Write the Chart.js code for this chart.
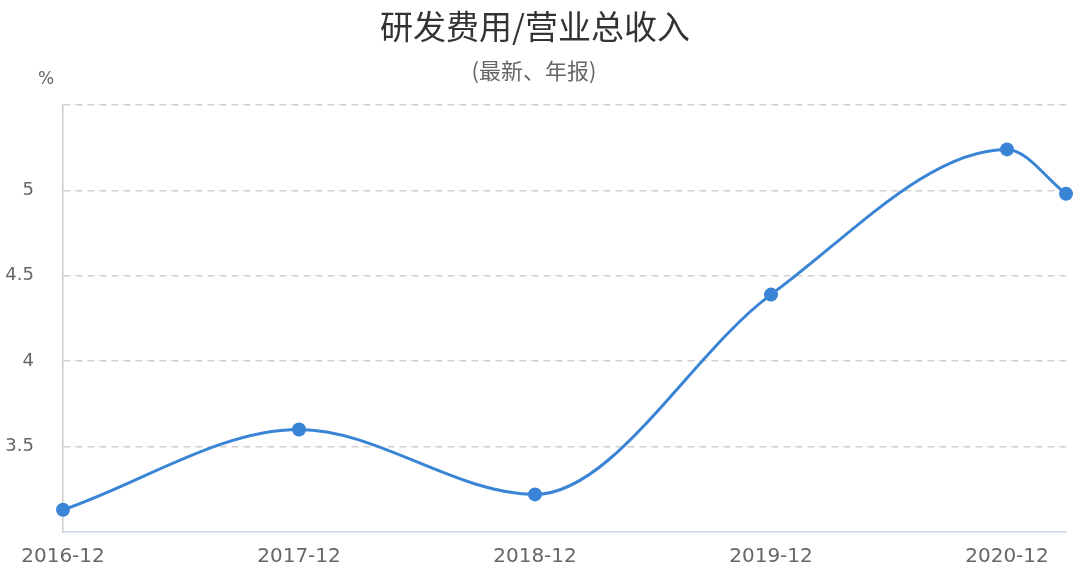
<!DOCTYPE html>
<html>
<head>
<meta charset="utf-8">
<script src="https://cdn.jsdelivr.net/npm/chart.js@4/dist/chart.umd.min.js"></script>
<style>
html,body{margin:0;padding:0;background:#fff;}
#wrap{width:1080px;height:584px;position:relative;}
</style>
</head>
<body>
<div id="wrap"><canvas id="c" width="1080" height="584"></canvas></div>
<script>
// Data (x in months since 2016-12)
const monthsFromStart = [0, 12, 24, 36, 48, 51];
const values = [3.13, 3.60, 3.22, 4.39, 5.24, 4.98];
const tickMonths = [0, 12, 24, 36, 48];
const tickLabels = ['2016-12', '2017-12', '2018-12', '2019-12', '2020-12'];
const yTicks = [3, 3.5, 4, 4.5, 5, 5.5];
const yLabels = ['', '3.5', '4', '4.5', '5', ''];
const titleText = '研发费用/营业总收入';
const subtitleText = '(最新、年报)';
const unitText = '%';

const FONT = '"DejaVu Sans", "Noto Sans CJK SC", sans-serif';
const CJK = '"Noto Sans CJK SC", sans-serif';

const textPlugin = {
  id: 'texts',
  afterDraw(chart) {
    const ctx = chart.ctx;
    ctx.save();
    ctx.textAlign = 'center';
    ctx.textBaseline = 'middle';
    ctx.fillStyle = '#333';
    ctx.font = '33px ' + CJK;
    ctx.fillText(titleText, 535, 26);
    ctx.fillStyle = '#666';
    ctx.font = '22px ' + CJK;
    ctx.fillText(subtitleText, 534, 71);
    ctx.font = '17px ' + FONT;
    ctx.fillText(unitText, 46, 80);
    ctx.restore();
  }
};

const pts = monthsFromStart.map((m, i) => ({x: m, y: values[i]}));

new Chart(document.getElementById('c'), {
  type: 'line',
  data: {
    datasets: [{
      data: pts,
      borderColor: '#3a84d6',
      backgroundColor: '#3a84d6',
      borderWidth: 3,
      pointRadius: 7,
      pointHoverRadius: 7,
      pointBackgroundColor: '#3a84d6',
      pointBorderWidth: 0,
      cubicInterpolationMode: 'monotone',
      fill: false,
      clip: false
    }]
  },
  options: {
    responsive: false,
    animation: false,
    events: [],
    layout: {padding: {left: 0, right: 14, top: 105, bottom: 0}},
    plugins: {legend: {display: false}, tooltip: {enabled: false}, title: {display: false}},
    scales: {
      x: {
        type: 'linear',
        min: 0,
        max: 51,
        afterBuildTicks(scale) { scale.ticks = tickMonths.map(v => ({value: v})); },
        afterFit(scale) { scale.height = 52; },
        ticks: {
          autoSkip: false,
          maxRotation: 0,
          padding: 13,
          color: '#666',
          font: {family: FONT, size: 20},
          callback(v) { const i = tickMonths.indexOf(v); return i >= 0 ? tickLabels[i] : ''; }
        },
        grid: {display: false, drawTicks: false},
        border: {display: true, color: '#ccd6eb', width: 1.5}
      },
      y: {
        min: 3,
        max: 5.5,
        afterBuildTicks(scale) { scale.ticks = yTicks.map(v => ({value: v})); },
        afterFit(scale) { scale.width = 63; },
        ticks: {
          padding: 29,
          color: '#666',
          font: {family: FONT, size: 18},
          callback(v) { const i = yTicks.indexOf(v); return i >= 0 ? yLabels[i] : ''; }
        },
        grid: {
          drawTicks: false,
          color: (c) => c.tick && c.tick.value === 3 ? 'rgba(0,0,0,0)' : '#d0d0d0',
          lineWidth: 1.5
        },
        border: {display: true, color: '#cccccc', width: 1.5, dash: [7, 5]}
      }
    }
  },
  plugins: [textPlugin]
});
</script>
</body>
</html>
